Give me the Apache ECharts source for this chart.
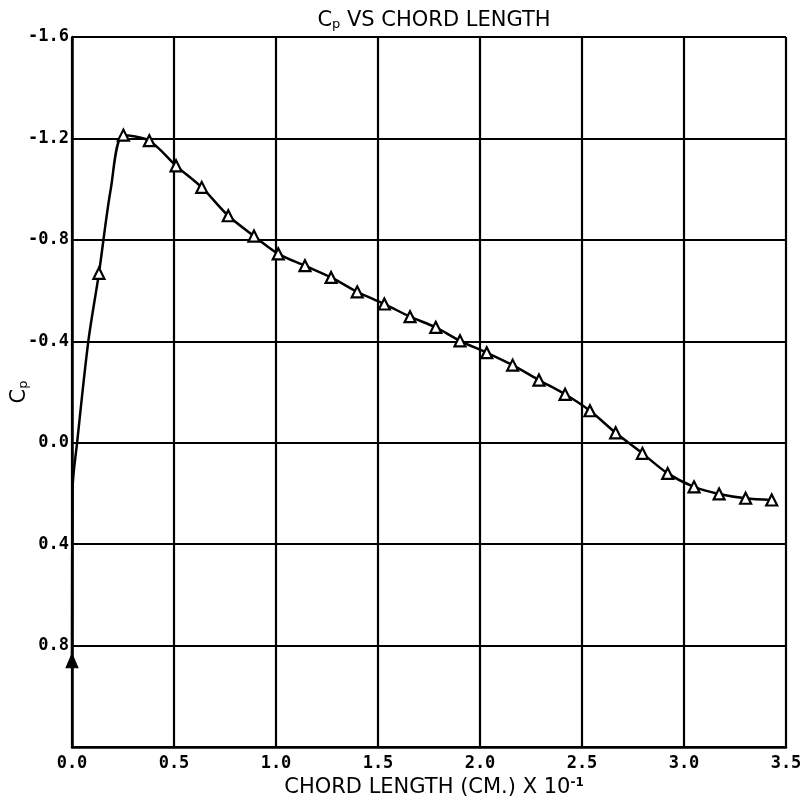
<!DOCTYPE html>
<html>
<head>
<meta charset="utf-8">
<script src="https://cdn.jsdelivr.net/npm/echarts@6/dist/echarts.min.js"></script>
<style>html,body{margin:0;padding:0;background:#fff}#c{width:812px;height:804px}</style>
</head>
<body>
<div id="c"></div>
<script>
// Data
var chordX = [0.132,0.252,0.379,0.510,0.636,0.766,0.892,1.011,1.142,1.270,1.398,1.531,1.657,1.783,1.902,2.033,2.160,2.289,2.417,2.539,2.665,2.796,2.920,3.049,3.172,3.302,3.430];
var cpValues = [-0.668,-1.213,-1.191,-1.092,-1.007,-0.895,-0.815,-0.745,-0.698,-0.652,-0.595,-0.547,-0.497,-0.455,-0.402,-0.355,-0.306,-0.247,-0.191,-0.126,-0.039,0.042,0.121,0.174,0.202,0.219,0.226];
// leading-edge curve (unmarked)
var leX = [0, 0.003, 0.025, 0.08, 0.132, 0.19, 0.252];
var leY = [0.86, 0.18, 0.0, -0.4, -0.668, -1.0, -1.213];
// stagnation point (filled marker)
var stagX = [0];
var stagY = [0.86];
var xTicks = [0, 0.5, 1.0, 1.5, 2.0, 2.5, 3.0, 3.5];
var yTicks = [-1.6, -1.2, -0.8, -0.4, 0.0, 0.4, 0.8];

function pairs(xs, ys){ return xs.map(function(x,i){return [x, ys[i]];}); }
var curve = pairs(leX, leY).concat(pairs(chordX, cpValues).slice(2));

var chart = echarts.init(document.getElementById('c'));
var lbl = {color:'#000', fontSize:17, fontWeight:'bold', fontFamily:'DejaVu Sans Mono'};
chart.setOption({
  animation:false,
  backgroundColor:'#fff',
  title:{
    text:'C{s|p} VS CHORD LENGTH',
    left:429, textAlign:'center', top:5,
    textStyle:{color:'#000', fontSize:21, fontWeight:'normal', fontFamily:'DejaVu Sans',
      rich:{s:{fontSize:13, color:'#000', verticalAlign:'bottom', padding:[8,0,0,0], fontFamily:'DejaVu Sans'}}}
  },
  grid:{left:72, right:26, top:37, bottom:57, containLabel:false, outerBoundsMode:'none'},
  xAxis:{
    type:'value', min:0, max:3.5, interval:0.5,
    axisLine:{onZero:false, lineStyle:{color:'#000', width:2.5}},
    axisTick:{show:false},
    splitLine:{show:true, lineStyle:{color:'#000', width:2.2}},
    axisLabel:Object.assign({margin:8, formatter:function(v){return v.toFixed(1);}}, lbl),
    name:'CHORD LENGTH (CM.) X 10{sup|-1}',
    nameLocation:'middle', nameGap:30, nameMoveOverlap:false,
    nameTextStyle:{color:'#000', fontSize:21, fontFamily:'DejaVu Sans', padding:[0,0,0,10],
      rich:{sup:{fontSize:12, color:'#000', fontWeight:'bold', verticalAlign:'top', padding:[0,0,10,0]}}}
  },
  yAxis:{
    type:'value', min:-1.6, max:1.2, interval:0.4, inverse:true,
    axisLine:{onZero:false, lineStyle:{color:'#000', width:2.5}},
    axisTick:{show:false},
    splitLine:{show:true, lineStyle:{color:'#000', width:2.2}},
    axisLabel:Object.assign({margin:3, formatter:function(v){
      if (Math.abs(v-1.2)<1e-6) return '';
      return (Math.abs(v)<1e-9?0:v).toFixed(1);}}, lbl),
    name:'C{s|p}', nameLocation:'middle', nameGap:42, nameRotate:90, nameMoveOverlap:false,
    nameTextStyle:{color:'#000', fontSize:21, fontFamily:'DejaVu Sans',
      rich:{s:{fontSize:13, color:'#000', verticalAlign:'bottom', padding:[8,0,0,0]}}}
  },
  series:[
    {type:'line', data:curve, smooth:0.3, showSymbol:false, symbol:'none',
     lineStyle:{color:'#000', width:2.5}, z:3},
    {type:'scatter', data:pairs(chordX, cpValues), symbol:'triangle', symbolSize:11,
     itemStyle:{color:'#fff', borderColor:'#000', borderWidth:2.2, opacity:1}, z:4},
    {type:'scatter', data:pairs(stagX, stagY), symbol:'triangle', symbolSize:[12,14],
     itemStyle:{color:'#000', borderColor:'#000', borderWidth:1, opacity:1}, z:5}
  ]
});
</script>
</body>
</html>
